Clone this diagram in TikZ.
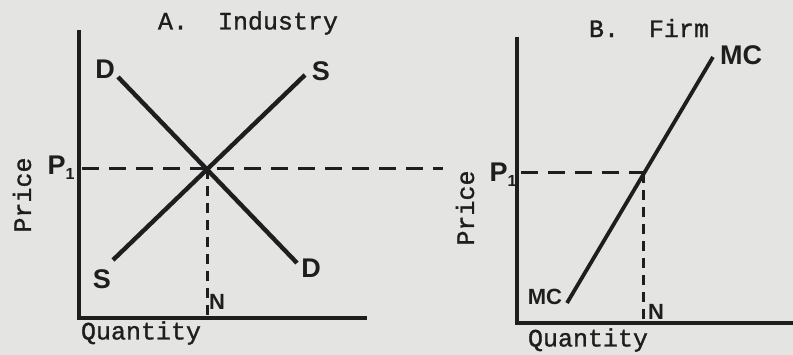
\documentclass[tikz,border=0pt]{standalone}
\usepackage{fontspec}
\setmonofont[FakeBold=1.2]{Liberation Mono}
\newfontfamily\handfont{Liberation Sans}
\definecolor{paper}{HTML}{E4E4E2}
\definecolor{ink}{HTML}{1E1E1E}
\begin{document}
\begin{tikzpicture}[x=1pt,y=-1pt,
  axisline/.style={draw=ink,line width=3.6pt},
  curve/.style={draw=ink,line width=4.4pt},
  guide/.style={draw=ink,line width=3pt,dash pattern=on 17pt off 10pt},
  vguide/.style={draw=ink,line width=3pt,dash pattern=on 10pt off 7pt},
  typed/.style={font=\fontsize{25}{25}\selectfont\ttfamily,text=ink,inner sep=0pt},
  hand/.style={font=\fontsize{27}{27}\selectfont\handfont\bfseries,text=ink,inner sep=0pt},
  smallhand/.style={hand,font=\fontsize{22}{22}\selectfont\handfont\bfseries}]
\fill[paper] (0,0) rectangle (793,355);
\useasboundingbox (0,0) rectangle (793,355);
% ---------- Panel A ----------
\coordinate (Atop) at (79,30);
\coordinate (Ao) at (79,318);
\coordinate (Aend) at (367,318);
\coordinate (Dtop) at (118,77);
\coordinate (Dbot) at (297,263);
\coordinate (Sbot) at (113,260);
\coordinate (Stop) at (305,75);
\coordinate (AE) at (207,169);
\coordinate (AP) at (82,169);
\coordinate (Aright) at (443,169);
\coordinate (AN) at (207,318);
\draw[guide] (AP) -- (Aright);
\draw[vguide] (AE) -- (AN);
\draw[curve] (Dtop) -- (Dbot);
\draw[curve] (Sbot) -- (Stop);
\draw[axisline] (Atop) -- (Ao) -- (Aend);
\node[typed] (titleA) at (248,23) {A.\ \ Industry};
\node[typed,rotate=90] (priceA) at (22,195) {Price};
\node[typed] (qtyA) at (141,333) {Quantity};
\node[hand] (labDt) at (105,69) {D};
\node[hand] (labSt) at (321,71) {S};
\node[hand] (labSb) at (102,279) {S};
\node[hand] (labDb) at (311,268) {D};
\node[hand] (labPA) at (61,168) {P\raisebox{-5pt}{\fontsize{16}{16}\selectfont 1}};
\node[smallhand] (labNA) at (217,302) {N};
% ---------- Panel B ----------
\coordinate (Btop) at (517,37);
\coordinate (Bo) at (517,323);
\coordinate (Bend) at (795,323);
\coordinate (MCb) at (567,303);
\coordinate (MCt) at (713,57);
\coordinate (BE) at (643,173);
\coordinate (BP) at (521,173);
\coordinate (BN) at (643,323);
\draw[guide] (BP) -- (BE);
\draw[vguide] (BE) -- (BN);
\draw[curve,line width=3.8pt] (MCb) -- (MCt);
\draw[axisline] (Btop) -- (Bo) -- (Bend);
\node[typed] (titleB) at (649,28) {B.\ \ Firm};
\node[typed,rotate=90] (priceB) at (465,208) {Price};
\node[typed] (qtyB) at (588,340) {Quantity};
\node[hand] (labMCt) at (741,55) {MC};
\node[smallhand] (labMCb) at (545,297) {MC};
\node[hand] (labPB) at (503,175) {P\raisebox{-5pt}{\fontsize{16}{16}\selectfont 1}};
\node[smallhand] (labNB) at (656,312) {N};
\end{tikzpicture}
\end{document}
